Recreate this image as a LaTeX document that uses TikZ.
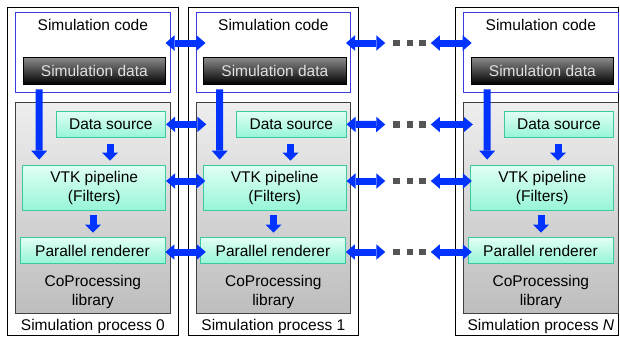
\documentclass[tikz,border=0pt]{standalone}
\usepackage{fontspec}
\setmainfont{Liberation Sans}
\usetikzlibrary{arrows.meta,calc}
\definecolor{arrowblue}{RGB}{0,51,255}
\definecolor{codeblue}{RGB}{60,60,220}
\definecolor{tealedge}{RGB}{60,200,160}
\definecolor{tealtop}{RGB}{225,255,245}
\definecolor{tealbot}{RGB}{150,245,215}
\definecolor{libedge}{RGB}{64,64,64}
\definecolor{libtop}{RGB}{238,238,238}
\definecolor{libbot}{RGB}{190,190,190}
\definecolor{datatop}{RGB}{140,140,140}
\definecolor{datatext}{RGB}{225,225,225}
\definecolor{dotgray}{RGB}{85,85,85}
\tikzset{
  every node/.style={font=\fontsize{15.5}{19}\selectfont, inner sep=0pt},
  txt/.style={text height=11pt, text depth=0pt},
  twoline/.style={align=center},
  outerbox/.style={draw=black, line width=1pt, fill=white, minimum height=327.5pt},
  codebox/.style={draw=codeblue, line width=1pt, fill=white, minimum width=154.3pt, minimum height=80pt},
  databox/.style={draw=black, line width=0.6pt, top color=datatop, bottom color=black, text=datatext, txt, minimum width=142.7pt, minimum height=27pt},
  libbox/.style={draw=libedge, line width=0.8pt, top color=libtop, bottom color=libbot, minimum width=154.3pt, minimum height=211pt},
  tealbox/.style={draw=tealedge, line width=0.8pt, top color=tealtop, bottom color=tealbot, txt},
  tealbox2/.style={draw=tealedge, line width=0.8pt, top color=tealtop, bottom color=tealbot, twoline},
  harrow/.style={draw=arrowblue, line width=7pt, {Triangle[length=9pt,width=15.5pt,line width=0pt]}-{Triangle[length=9pt,width=15.5pt,line width=0pt]}},
  bigdown/.style={draw=arrowblue, line width=7pt, -{Triangle[length=9pt,width=16pt,line width=0pt]}},
  smalldown/.style={draw=arrowblue, line width=7pt, -{Triangle[length=8pt,width=16pt,line width=0pt]}},
  dotsq/.style={fill=dotgray, minimum size=6.5pt},
}
\newcommand\simproc[3]{%
  \node[codebox] (code#2) at (#1+92.85,52.3) {};
  \node[txt] (codelbl#2) at (#1+92.85,25) {Simulation code};
  \node[databox] (data#2) at (#1+94.35,70.8) {Simulation data};
  \node[libbox] (lib#2) at (#1+92.85,207.5) {};
  \node[tealbox, minimum width=109.7pt, minimum height=26.7pt] (ds#2) at (#1+110.85,124.35) {Data source};
  \node[tealbox2, minimum width=143pt, minimum height=45.7pt] (vtk#2) at (#1+94.2,187.85) {VTK pipeline\\(Filters)};
  \node[tealbox, minimum width=145pt, minimum height=25.6pt] (rend#2) at (#1+92.5,250.5) {Parallel renderer};
  \node[twoline] (colbl#2) at (#1+92.85,292.3) {CoProcessing\\library};
  \node[txt] (plbl#2) at (#1+92.85,325) {#3};
  \draw[bigdown] ($(data#2.south)+(-55.15,4.7)$) -- ($(vtk#2.north)+(-55,-5)$);
  \draw[smalldown] ($(ds#2.south)+(-0.85,6.3)$) -- ($(vtk#2.north)+(15.8,-4)$);
  \draw[smalldown] ($(vtk#2.south)+(-1.2,3.5)$) -- ($(rend#2.north)+(0.5,-4.7)$);
}
\begin{document}
\begin{tikzpicture}[x=1pt,y=-1pt]
\useasboundingbox[fill=white] (0,0) rectangle (620,338);
\node[outerbox, minimum width=170.5pt] (outer0) at (92.75,171.25) {};
\node[outerbox, minimum width=170.5pt] (outer1) at (273.25,171.25) {};
\node[outerbox, minimum width=163.5pt] (outerN) at (536.75,171.25) {};
\simproc{0}{0}{Simulation process 0}
\simproc{180.5}{1}{Simulation process 1}
\simproc{448}{N}{Simulation process \textit{N}}
\foreach \yy/\nn in {43/c,124.5/d,181/v,252/r}{
  \node[dotsq] (d\nn1) at (396.7,\yy) {};
  \node[dotsq] (d\nn2) at (410,\yy) {};
  \node[dotsq] (d\nn3) at (422.4,\yy) {};
}
% code level
\draw[harrow] ($(code0.east)+(-5,-9.3)$) -- ($(code1.west)+(9.8,-9.3)$);
\draw[harrow] ($(code1.east)+(-5,-9.3)$) -- ($(dc1.west)+(-8,0)$);
\draw[harrow] ($(dc3.east)+(5,0)$) -- ($(codeN.west)+(8.5,-9.3)$);
% data source level
\draw[harrow] (ds0.east) -- ($(lib1.west |- ds0.east)+(10.5,0)$);
\draw[harrow] (ds1.east) -- ($(dd1.west)+(-8,0)$);
\draw[harrow] ($(dd3.east)+(5,0)$) -- ($(libN.west |- dd3.east)+(9.5,0)$);
% vtk level
\draw[harrow] ($(vtk0.east)+(0,-6.85)$) -- ($(lib1.west |- dv1.west)+(9.5,0)$);
\draw[harrow] ($(vtk1.east)+(0,-6.85)$) -- ($(dv1.west)+(-8,0)$);
\draw[harrow] ($(dv3.east)+(5,0)$) -- ($(libN.west |- dv3.east)+(8.5,0)$);
% renderer level
\draw[harrow] ($(rend0.east)+(0,1.5)$) -- ($(lib1.west |- dr1.west)+(10,0)$);
\draw[harrow] ($(rend1.east)+(0,1.5)$) -- ($(dr1.west)+(-8,0)$);
\draw[harrow] ($(dr3.east)+(5,0)$) -- ($(libN.west |- dr3.east)+(8.5,0)$);
\end{tikzpicture}
\end{document}
